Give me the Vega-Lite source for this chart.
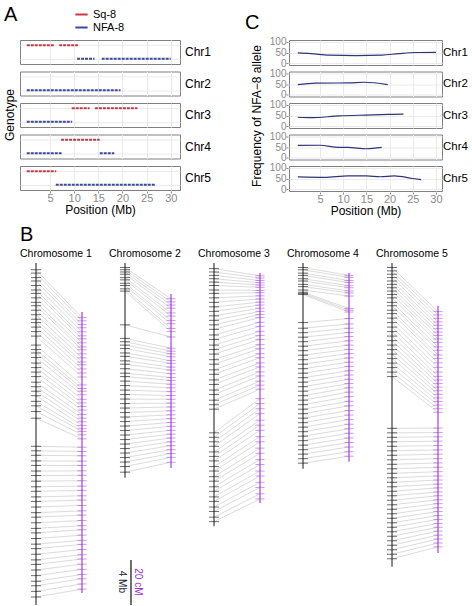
{
 "$schema": "https://vega.github.io/schema/vega-lite/v6.json",
 "padding": {"left": 3, "top": 4, "right": 0, "bottom": 0},
 "config": {
  "font": "Liberation Sans",
  "view": {"stroke": "#808080"},
  "axis": {"labelColor": "#8a8a8a", "labelFontSize": 11, "tickColor": "#8a8a8a", "tickSize": 2, "domain": false, "gridColor": "#ebebeb", "titleFontWeight": "normal", "titleFontSize": 12, "titleColor": "#000", "labelPadding": 1, "minExtent": 0},
  "header": {"labelFontSize": 12, "titleFontSize": 12, "titleFontWeight": "normal", "labelColor": "#000", "titleColor": "#000"},
  "title": {"fontSize": 20, "fontWeight": "normal", "anchor": "start", "color": "#000"}
 },
 "datasets": {
  "geno": [
   {"chr": "Chr1", "g": "Sq-8", "s": 0.2, "e": 6.0},
   {"chr": "Chr1", "g": "Sq-8", "s": 6.9, "e": 10.8},
   {"chr": "Chr1", "g": "NFA-8", "s": 10.6, "e": 14.2},
   {"chr": "Chr1", "g": "NFA-8", "s": 15.7, "e": 30.0},
   {"chr": "Chr2", "g": "NFA-8", "s": 0.2, "e": 19.6},
   {"chr": "Chr3", "g": "Sq-8", "s": 9.5, "e": 13.2},
   {"chr": "Chr3", "g": "Sq-8", "s": 14.3, "e": 23.1},
   {"chr": "Chr3", "g": "NFA-8", "s": 0.2, "e": 9.6},
   {"chr": "Chr4", "g": "Sq-8", "s": 7.3, "e": 15.3},
   {"chr": "Chr4", "g": "NFA-8", "s": 0.2, "e": 7.4},
   {"chr": "Chr4", "g": "NFA-8", "s": 15.3, "e": 18.3},
   {"chr": "Chr5", "g": "Sq-8", "s": 0.2, "e": 6.3},
   {"chr": "Chr5", "g": "NFA-8", "s": 6.2, "e": 26.7}
  ],
  "freq": [
   {"chr": "Chr1", "pos": 0.2, "f": 48}, {"chr": "Chr1", "pos": 3.0, "f": 45}, {"chr": "Chr1", "pos": 6.9, "f": 38}, {"chr": "Chr1", "pos": 12.7, "f": 36}, {"chr": "Chr1", "pos": 18.4, "f": 38}, {"chr": "Chr1", "pos": 22.0, "f": 45}, {"chr": "Chr1", "pos": 25.6, "f": 50}, {"chr": "Chr1", "pos": 30.0, "f": 51},
   {"chr": "Chr2", "pos": 0.2, "f": 47}, {"chr": "Chr2", "pos": 4.0, "f": 54}, {"chr": "Chr2", "pos": 11.2, "f": 55}, {"chr": "Chr2", "pos": 14.5, "f": 58}, {"chr": "Chr2", "pos": 19.6, "f": 47},
   {"chr": "Chr3", "pos": 0.2, "f": 42}, {"chr": "Chr3", "pos": 3.0, "f": 40}, {"chr": "Chr3", "pos": 9.1, "f": 48}, {"chr": "Chr3", "pos": 14.8, "f": 52}, {"chr": "Chr3", "pos": 19.8, "f": 55}, {"chr": "Chr3", "pos": 23.0, "f": 56},
   {"chr": "Chr4", "pos": 0.2, "f": 57}, {"chr": "Chr4", "pos": 5.0, "f": 58}, {"chr": "Chr4", "pos": 9.0, "f": 48}, {"chr": "Chr4", "pos": 11.0, "f": 48}, {"chr": "Chr4", "pos": 15.0, "f": 42}, {"chr": "Chr4", "pos": 18.3, "f": 48},
   {"chr": "Chr5", "pos": 0.2, "f": 57}, {"chr": "Chr5", "pos": 6.0, "f": 55}, {"chr": "Chr5", "pos": 11.0, "f": 62}, {"chr": "Chr5", "pos": 15.0, "f": 62}, {"chr": "Chr5", "pos": 18.0, "f": 58}, {"chr": "Chr5", "pos": 21.0, "f": 62}, {"chr": "Chr5", "pos": 25.0, "f": 50}, {"chr": "Chr5", "pos": 26.8, "f": 45}
  ],
  "map": [
   {"c": 1, "t": "chr", "mb": 0, "mb2": 30.4, "cm": 21.8, "cm2": 146.7},
   {"c": 2, "t": "chr", "mb": 0, "mb2": 19.1, "cm": 13.8, "cm2": 91.1},
   {"c": 3, "t": "chr", "mb": 0, "mb2": 23.4, "cm": 4.4, "cm2": 106.7},
   {"c": 4, "t": "chr", "mb": 0, "mb2": 18.3, "cm": 4.4, "cm2": 88.4},
   {"c": 5, "t": "chr", "mb": 0, "mb2": 27.0, "cm": 19.1, "cm2": 128.9},
   {"c": 2, "t": "bar", "mb": 26.4, "mb2": 30.4},
   {"c":1,"mb":0.6,"cm":24.3},{"c":1,"mb":0.9,"cm":25.7},{"c":1,"mb":1.3,"cm":27.4},{"c":1,"mb":1.6,"cm":28.8},{"c":1,"mb":2.0,"cm":30.6},{"c":1,"mb":2.4,"cm":32.4},{"c":1,"mb":2.7,"cm":33.7},{"c":1,"mb":3.1,"cm":35.5},{"c":1,"mb":3.5,"cm":37.3},{"c":1,"mb":3.8,"cm":38.6},{"c":1,"mb":4.2,"cm":40.4},{"c":1,"mb":4.6,"cm":42.2},{"c":1,"mb":5.0,"cm":44.0},{"c":1,"mb":5.3,"cm":45.3},{"c":1,"mb":5.7,"cm":47.1},{"c":1,"mb":6.1,"cm":48.9},{"c":1,"mb":6.5,"cm":50.7},{"c":1,"mb":7.3,"cm":54.2},{"c":1,"mb":7.7,"cm":55.8},{"c":1,"mb":8.0,"cm":57.0},{"c":1,"mb":8.4,"cm":58.6},{"c":1,"mb":8.9,"cm":60.6},{"c":1,"mb":9.3,"cm":62.2},{"c":1,"mb":9.7,"cm":63.8},{"c":1,"mb":10.1,"cm":65.4},{"c":1,"mb":10.6,"cm":67.4},{"c":1,"mb":11.0,"cm":69.0},{"c":1,"mb":11.4,"cm":70.6},{"c":1,"mb":11.8,"cm":72.2},{"c":1,"mb":12.3,"cm":73.7},{"c":1,"mb":12.7,"cm":74.9},{"c":1,"mb":13.2,"cm":76.4},{"c":1,"mb":13.8,"cm":78.2},{"c":1,"mb":16.3,"cm":81.9},{"c":1,"mb":16.7,"cm":83.8},{"c":1,"mb":17.1,"cm":85.7},{"c":1,"mb":17.6,"cm":88.1},{"c":1,"mb":18.0,"cm":90.0},{"c":1,"mb":18.5,"cm":92.4},{"c":1,"mb":18.9,"cm":94.4},{"c":1,"mb":19.4,"cm":96.8},{"c":1,"mb":19.9,"cm":99.2},{"c":1,"mb":20.3,"cm":101.1},{"c":1,"mb":20.8,"cm":103.5},{"c":1,"mb":21.2,"cm":105.4},{"c":1,"mb":21.7,"cm":107.8},{"c":1,"mb":22.2,"cm":110.2},{"c":1,"mb":22.6,"cm":112.1},{"c":1,"mb":23.1,"cm":114.5},{"c":1,"mb":23.6,"cm":116.8},{"c":1,"mb":24.0,"cm":118.6},{"c":1,"mb":24.5,"cm":121.0},{"c":1,"mb":25.0,"cm":123.3},{"c":1,"mb":25.4,"cm":125.1},{"c":1,"mb":25.9,"cm":127.4},{"c":1,"mb":26.4,"cm":129.7},{"c":1,"mb":26.8,"cm":131.6},{"c":1,"mb":27.3,"cm":133.9},{"c":1,"mb":27.8,"cm":136.2},{"c":1,"mb":28.3,"cm":138.5},{"c":1,"mb":28.7,"cm":140.4},{"c":1,"mb":29.2,"cm":142.7},{"c":1,"mb":29.7,"cm":145.0},
   {"c":2,"mb":0.4,"cm":15.9},{"c":2,"mb":0.6,"cm":17.3},{"c":2,"mb":0.8,"cm":18.7},{"c":2,"mb":1.0,"cm":20.1},{"c":2,"mb":1.3,"cm":22.2},{"c":2,"mb":1.5,"cm":23.6},{"c":2,"mb":1.8,"cm":25.6},{"c":2,"mb":2.0,"cm":27.0},{"c":2,"mb":2.3,"cm":29.1},{"c":2,"mb":2.5,"cm":30.5},{"c":2,"mb":5.5,"cm":32.9},{"c":2,"mb":6.7,"cm":37.9},{"c":2,"mb":7.0,"cm":39.2},{"c":2,"mb":7.3,"cm":40.4},{"c":2,"mb":7.6,"cm":41.7},{"c":2,"mb":8.0,"cm":43.4},{"c":2,"mb":8.3,"cm":44.6},{"c":2,"mb":8.7,"cm":46.3},{"c":2,"mb":9.0,"cm":47.6},{"c":2,"mb":9.4,"cm":49.2},{"c":2,"mb":9.8,"cm":50.9},{"c":2,"mb":10.1,"cm":52.2},{"c":2,"mb":10.5,"cm":53.9},{"c":2,"mb":10.9,"cm":55.5},{"c":2,"mb":11.3,"cm":57.2},{"c":2,"mb":11.7,"cm":58.9},{"c":2,"mb":12.1,"cm":60.6},{"c":2,"mb":12.5,"cm":62.3},{"c":2,"mb":12.9,"cm":64.0},{"c":2,"mb":13.3,"cm":65.7},{"c":2,"mb":13.7,"cm":67.5},{"c":2,"mb":14.1,"cm":69.2},{"c":2,"mb":14.5,"cm":70.9},{"c":2,"mb":14.9,"cm":72.6},{"c":2,"mb":15.3,"cm":74.4},{"c":2,"mb":15.7,"cm":76.1},{"c":2,"mb":16.1,"cm":77.8},{"c":2,"mb":16.5,"cm":79.5},{"c":2,"mb":16.9,"cm":81.2},{"c":2,"mb":17.3,"cm":83.0},{"c":2,"mb":17.7,"cm":84.7},{"c":2,"mb":18.1,"cm":86.4},{"c":2,"mb":18.6,"cm":88.6},
   {"c":3,"mb":0.5,"cm":5.7},{"c":3,"mb":0.8,"cm":6.7},{"c":3,"mb":1.1,"cm":7.8},{"c":3,"mb":1.4,"cm":8.8},{"c":3,"mb":1.7,"cm":9.8},{"c":3,"mb":2.0,"cm":10.8},{"c":3,"mb":2.4,"cm":12.2},{"c":3,"mb":2.7,"cm":13.2},{"c":3,"mb":3.1,"cm":14.6},{"c":3,"mb":3.5,"cm":16.0},{"c":3,"mb":3.9,"cm":17.4},{"c":3,"mb":4.3,"cm":18.7},{"c":3,"mb":4.7,"cm":20.1},{"c":3,"mb":5.1,"cm":21.5},{"c":3,"mb":5.5,"cm":22.9},{"c":3,"mb":5.9,"cm":24.2},{"c":3,"mb":6.4,"cm":26.4},{"c":3,"mb":6.8,"cm":28.2},{"c":3,"mb":7.3,"cm":30.4},{"c":3,"mb":7.7,"cm":32.2},{"c":3,"mb":8.1,"cm":34.0},{"c":3,"mb":8.6,"cm":36.3},{"c":3,"mb":9.0,"cm":38.1},{"c":3,"mb":9.5,"cm":40.3},{"c":3,"mb":9.9,"cm":42.1},{"c":3,"mb":10.4,"cm":44.4},{"c":3,"mb":10.8,"cm":46.2},{"c":3,"mb":11.3,"cm":48.4},{"c":3,"mb":11.7,"cm":50.2},{"c":3,"mb":12.2,"cm":52.5},{"c":3,"mb":12.6,"cm":54.3},{"c":3,"mb":13.0,"cm":56.1},{"c":3,"mb":15.1,"cm":60.3},{"c":3,"mb":15.5,"cm":62.5},{"c":3,"mb":15.9,"cm":64.8},{"c":3,"mb":16.3,"cm":67.0},{"c":3,"mb":16.8,"cm":69.9},{"c":3,"mb":17.2,"cm":72.1},{"c":3,"mb":17.6,"cm":74.4},{"c":3,"mb":18.1,"cm":77.2},{"c":3,"mb":18.5,"cm":79.5},{"c":3,"mb":19.0,"cm":82.3},{"c":3,"mb":19.4,"cm":84.6},{"c":3,"mb":19.9,"cm":87.4},{"c":3,"mb":20.3,"cm":89.6},{"c":3,"mb":20.8,"cm":92.5},{"c":3,"mb":21.2,"cm":94.7},{"c":3,"mb":21.7,"cm":97.5},{"c":3,"mb":22.1,"cm":99.8},{"c":3,"mb":22.6,"cm":102.6},{"c":3,"mb":23.0,"cm":104.9},
   {"c":4,"mb":0.4,"cm":5.5},{"c":4,"mb":0.6,"cm":6.4},{"c":4,"mb":0.9,"cm":7.8},{"c":4,"mb":1.1,"cm":8.7},{"c":4,"mb":1.4,"cm":10.1},{"c":4,"mb":1.6,"cm":11.0},{"c":4,"mb":1.9,"cm":12.4},{"c":4,"mb":2.1,"cm":13.3},{"c":4,"mb":2.4,"cm":14.7},{"c":4,"mb":2.6,"cm":20.2},{"c":4,"mb":2.7,"cm":21.0},{"c":4,"mb":2.8,"cm":21.8},{"c":4,"mb":5.3,"cm":24.7},{"c":4,"mb":5.8,"cm":27.1},{"c":4,"mb":6.2,"cm":29.0},{"c":4,"mb":6.6,"cm":30.9},{"c":4,"mb":7.0,"cm":32.7},{"c":4,"mb":7.4,"cm":34.6},{"c":4,"mb":7.8,"cm":36.5},{"c":4,"mb":8.2,"cm":38.4},{"c":4,"mb":8.6,"cm":40.3},{"c":4,"mb":9.0,"cm":42.2},{"c":4,"mb":9.4,"cm":44.1},{"c":4,"mb":9.8,"cm":46.0},{"c":4,"mb":10.2,"cm":47.9},{"c":4,"mb":10.6,"cm":49.8},{"c":4,"mb":11.0,"cm":51.7},{"c":4,"mb":11.4,"cm":53.6},{"c":4,"mb":11.8,"cm":55.5},{"c":4,"mb":12.2,"cm":57.4},{"c":4,"mb":12.6,"cm":59.4},{"c":4,"mb":13.0,"cm":61.5},{"c":4,"mb":13.4,"cm":63.5},{"c":4,"mb":13.8,"cm":65.6},{"c":4,"mb":14.2,"cm":67.6},{"c":4,"mb":14.6,"cm":69.6},{"c":4,"mb":15.0,"cm":71.7},{"c":4,"mb":15.4,"cm":73.7},{"c":4,"mb":15.8,"cm":75.7},{"c":4,"mb":16.2,"cm":77.8},{"c":4,"mb":16.6,"cm":79.8},{"c":4,"mb":17.0,"cm":81.8},{"c":4,"mb":17.4,"cm":83.9},{"c":4,"mb":17.8,"cm":85.9},
   {"c":5,"mb":0.4,"cm":21.6},{"c":5,"mb":0.7,"cm":23.1},{"c":5,"mb":1.0,"cm":24.6},{"c":5,"mb":1.3,"cm":26.2},{"c":5,"mb":1.6,"cm":27.7},{"c":5,"mb":1.9,"cm":29.2},{"c":5,"mb":2.2,"cm":30.7},{"c":5,"mb":2.5,"cm":32.2},{"c":5,"mb":2.8,"cm":33.8},{"c":5,"mb":3.1,"cm":35.3},{"c":5,"mb":3.5,"cm":37.3},{"c":5,"mb":3.8,"cm":38.8},{"c":5,"mb":4.2,"cm":40.9},{"c":5,"mb":4.5,"cm":42.4},{"c":5,"mb":4.9,"cm":44.4},{"c":5,"mb":5.3,"cm":46.4},{"c":5,"mb":5.7,"cm":48.5},{"c":5,"mb":6.1,"cm":50.4},{"c":5,"mb":6.5,"cm":52.0},{"c":5,"mb":6.9,"cm":53.6},{"c":5,"mb":7.3,"cm":55.2},{"c":5,"mb":7.7,"cm":56.8},{"c":5,"mb":8.1,"cm":58.4},{"c":5,"mb":8.5,"cm":60.0},{"c":5,"mb":8.9,"cm":61.6},{"c":5,"mb":9.3,"cm":63.2},{"c":5,"mb":9.7,"cm":64.8},{"c":5,"mb":10.1,"cm":66.4},{"c":5,"mb":14.7,"cm":73.4},{"c":5,"mb":15.1,"cm":75.4},{"c":5,"mb":15.5,"cm":77.3},{"c":5,"mb":15.9,"cm":79.2},{"c":5,"mb":16.3,"cm":81.2},{"c":5,"mb":16.7,"cm":83.1},{"c":5,"mb":17.1,"cm":85.0},{"c":5,"mb":17.5,"cm":87.0},{"c":5,"mb":17.9,"cm":88.9},{"c":5,"mb":18.3,"cm":90.8},{"c":5,"mb":18.7,"cm":92.8},{"c":5,"mb":19.1,"cm":94.7},{"c":5,"mb":19.5,"cm":96.5},{"c":5,"mb":19.9,"cm":98.3},{"c":5,"mb":20.3,"cm":100.0},{"c":5,"mb":20.7,"cm":101.8},{"c":5,"mb":21.1,"cm":103.5},{"c":5,"mb":21.5,"cm":105.3},{"c":5,"mb":21.9,"cm":107.0},{"c":5,"mb":22.3,"cm":108.8},{"c":5,"mb":22.7,"cm":110.5},{"c":5,"mb":23.1,"cm":112.3},{"c":5,"mb":23.5,"cm":114.0},{"c":5,"mb":23.9,"cm":115.8},{"c":5,"mb":24.3,"cm":117.5},{"c":5,"mb":24.7,"cm":119.2},{"c":5,"mb":25.1,"cm":121.0},{"c":5,"mb":25.5,"cm":122.7},{"c":5,"mb":25.9,"cm":124.5},{"c":5,"mb":26.3,"cm":126.2}
  ]
 },
 "vconcat": [
  {
   "hconcat": [
    {
     "data": {"name": "geno"},
     "title": {"text": "A", "offset": 15},
     "facet": {"row": {"field": "chr", "type": "nominal", "title": "Genotype", "header": {"labelOrient": "right", "labelAngle": 0, "labelPadding": 4, "titleOrient": "left", "titlePadding": -8}}},
     "spacing": 5.5,
     "spec": {
      "width": 160, "height": 24,
      "mark": {"type": "rule", "strokeWidth": 2, "strokeDash": [3, 1]},
      "encoding": {
       "x": {"field": "s", "type": "quantitative", "scale": {"domain": [-1.2, 31.9], "nice": false, "zero": false}, "axis": {"values": [5, 10, 15, 20, 25, 30], "title": "Position (Mb)", "titlePadding": 1, "labelPadding": -1}},
       "x2": {"field": "e"},
       "y": {"field": "g", "type": "nominal", "sort": ["Sq-8", "NFA-8"], "scale": {"type": "point", "padding": 0.4}, "axis": {"labels": false, "ticks": false, "title": null, "grid": true}},
       "color": {"field": "g", "type": "nominal", "scale": {"domain": ["Sq-8", "NFA-8"], "range": ["#c23a45", "#3b4a9a"]}, "legend": {"orient": "none", "legendX": 54, "legendY": -33, "title": null, "symbolType": "stroke", "symbolStrokeWidth": 2, "symbolSize": 150, "labelFontSize": 11, "rowPadding": 0, "direction": "vertical"}}
      }
     }
    },
    {
     "data": {"name": "freq"},
     "title": {"text": "C", "offset": 4, "dx": -6},
     "facet": {"row": {"field": "chr", "type": "nominal", "title": "Frequency of NFA−8 allele", "header": {"labelOrient": "right", "labelAngle": 0, "labelPadding": 0, "labelFontSize": 11.5, "titleOrient": "left", "titlePadding": -5}}},
     "spacing": 4.5,
     "spec": {
      "width": 153, "height": 25,
      "mark": {"type": "line", "interpolate": "monotone", "color": "#2e3676", "strokeWidth": 1.2},
      "encoding": {
       "x": {"field": "pos", "type": "quantitative", "scale": {"domain": [-1.7, 31.3], "nice": false, "zero": false}, "axis": {"values": [5, 10, 15, 20, 25, 30], "title": "Position (Mb)", "titlePadding": 1, "labelPadding": -1}},
       "y": {"field": "f", "type": "quantitative", "scale": {"domain": [-7, 107], "nice": false}, "axis": {"values": [0, 50, 100], "title": null, "grid": true, "labelPadding": 0, "labelFontSize": 10, "labelOverlap": false}}
      }
     }
    }
   ],
   "spacing": 32
  },
  {
   "data": {"name": "map"},
   "title": {"text": "B", "offset": 4},
   "transform": [{"calculate": "datum.cm / 5", "as": "g"}, {"calculate": "datum.cm2 / 5", "as": "g2"}],
   "facet": {"column": {"field": "c", "type": "ordinal", "title": null, "header": {"labelExpr": "'Chromosome ' + datum.value", "labelFontSize": 10.5, "labelPadding": 3, "labelAlign": "left", "labelAnchor": "start"}}},
   "spacing": 0,
   "spec": {
    "width": 88.5, "height": 343,
    "view": {"stroke": null},
    "layer": [
     {
      "transform": [{"filter": "!datum.t"}],
      "mark": {"type": "rule", "color": "#9a9a9a", "strokeWidth": 0.6, "opacity": 0.6},
      "encoding": {
       "x": {"datum": 0, "type": "quantitative", "scale": {"domain": [-0.348, 1.576], "nice": false, "zero": false}, "axis": null},
       "x2": {"datum": 1},
       "y": {"field": "mb", "type": "quantitative", "scale": {"domain": [0, 30.5], "reverse": true, "nice": false, "zero": false}, "axis": null},
       "y2": {"field": "g"}
      }
     },
     {
      "transform": [{"filter": "datum.t === 'chr'"}],
      "mark": {"type": "rule", "color": "#2a2a2a", "strokeWidth": 1.1},
      "encoding": {"x": {"datum": 0, "type": "quantitative", "axis": null}, "y": {"field": "mb", "type": "quantitative", "axis": null}, "y2": {"field": "mb2"}}
     },
     {
      "transform": [{"filter": "datum.t === 'chr'"}],
      "mark": {"type": "rule", "color": "#9b30d9", "strokeWidth": 1.1},
      "encoding": {"x": {"datum": 1, "type": "quantitative", "axis": null}, "y": {"field": "g", "type": "quantitative", "axis": null}, "y2": {"field": "g2"}}
     },
     {
      "transform": [{"filter": "!datum.t"}],
      "mark": {"type": "rule", "color": "#111111", "strokeWidth": 1, "opacity": 0.6},
      "encoding": {"x": {"datum": -0.11, "type": "quantitative", "axis": null}, "x2": {"datum": 0.11}, "y": {"field": "mb", "type": "quantitative", "axis": null}}
     },
     {
      "transform": [{"filter": "!datum.t"}],
      "mark": {"type": "rule", "color": "#a846e0", "strokeWidth": 1, "opacity": 0.55},
      "encoding": {"x": {"datum": 0.9, "type": "quantitative", "axis": null}, "x2": {"datum": 1.1}, "y": {"field": "g", "type": "quantitative", "axis": null}}
     },
     {
      "transform": [{"filter": "datum.t === 'bar'"}],
      "mark": {"type": "rule", "color": "#111111", "strokeWidth": 1.2},
      "encoding": {"x": {"datum": 0.13, "type": "quantitative", "axis": null}, "y": {"field": "mb", "type": "quantitative", "axis": null}, "y2": {"field": "mb2"}}
     },
     {
      "transform": [{"filter": "datum.t === 'bar'"}],
      "mark": {"type": "text", "text": "4 Mb", "angle": 90, "align": "center", "baseline": "middle", "dx": 22, "dy": 9, "fontSize": 10, "color": "#222244"},
      "encoding": {"x": {"datum": 0.13, "type": "quantitative", "axis": null}, "y": {"field": "mb", "type": "quantitative", "axis": null}}
     },
     {
      "transform": [{"filter": "datum.t === 'bar'"}],
      "mark": {"type": "text", "text": "20 cM", "angle": 90, "align": "center", "baseline": "middle", "dx": 22, "dy": -7, "fontSize": 10, "color": "#9b30d9"},
      "encoding": {"x": {"datum": 0.13, "type": "quantitative", "axis": null}, "y": {"field": "mb", "type": "quantitative", "axis": null}}
     }
    ]
   }
  }
 ],
 "spacing": 8
}
